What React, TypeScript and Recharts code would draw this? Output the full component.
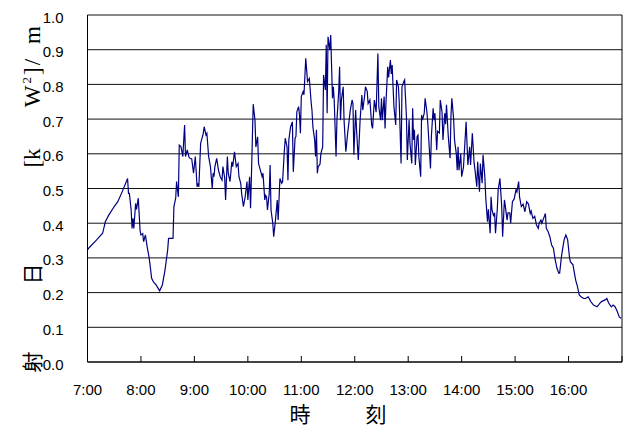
import React from "react";
import { LineChart, Line, XAxis, YAxis, CartesianGrid, ReferenceLine } from "recharts";

// time of day in minutes since midnight
const timeMinutes: number[] = [
  420, 422, 430, 437, 440, 444, 450, 454, 459, 465, 466, 467, 469, 470, 471, 472, 474, 475, 477, 479,
  480, 482, 483, 485, 487, 489, 490, 492, 494, 497, 501, 504, 507, 510, 511, 516, 517, 519, 520, 522,
  523, 525, 527, 529, 530, 532, 534, 535, 537, 539, 541, 543, 544, 545, 547, 550, 551, 553, 554, 556,
  558, 560, 561, 562, 563, 565, 567, 569, 571, 572, 574, 575, 577, 578, 580, 582, 583, 585, 587, 589,
  590, 592, 593, 595, 597, 599, 600, 602, 603, 604, 606, 608, 609, 611, 612, 614, 616, 617, 619, 620,
  621, 622, 624, 625, 626, 628, 629, 631, 633, 634, 636, 638, 639, 641, 642, 644, 645, 646, 648, 650,
  651, 653, 654, 655, 657, 658, 659, 660, 662, 663, 665, 667, 669, 671, 672, 673, 675, 676, 677, 678,
  679, 681, 682, 684, 685, 687, 688, 689, 690, 692, 693, 695, 696, 697, 699, 700, 702, 703, 704, 705,
  707, 708, 710, 712, 713, 715, 717, 718, 719, 721, 722, 724, 726, 728, 729, 731, 732, 734, 735, 737,
  739, 740, 742, 744, 746, 747, 749, 750, 751, 753, 754, 755, 757, 758, 760, 761, 762, 763, 764, 766,
  767, 769, 770, 772, 773, 775, 776, 778, 779, 781, 782, 784, 785, 786, 787, 788, 790, 791, 792, 794,
  795, 796, 798, 799, 801, 802, 805, 806, 808, 809, 810, 812, 813, 815, 816, 818, 819, 821, 822, 823,
  825, 827, 828, 829, 831, 832, 834, 835, 836, 837, 839, 840, 842, 845, 846, 847, 849, 850, 852, 854,
  855, 857, 858, 860, 861, 863, 864, 866, 867, 869, 870, 872, 873, 874, 876, 877, 878, 880, 881, 883,
  885, 886, 888, 889, 891, 892, 894, 895, 897, 899, 901, 902, 904, 905, 907, 909, 911, 913, 915, 917,
  918, 920, 922, 924, 926, 927, 929, 930, 932, 934, 935, 937, 939, 941, 943, 945, 947, 949, 950, 952,
  953, 955, 957, 959, 961, 962, 965, 966, 968, 970, 972, 974, 977, 979, 982, 985, 988, 992, 995, 997,
  1001, 1003, 1005, 1008, 1010, 1012, 1014, 1017, 1019,
];

// solar irradiance [kW/m2]
const irradiance: number[] = [
  0.323, 0.33, 0.351, 0.371, 0.404, 0.424, 0.448, 0.462, 0.491, 0.529, 0.486, 0.486, 0.438, 0.385, 0.414, 0.385, 0.457, 0.44, 0.472, 0.38,
  0.366, 0.37, 0.347, 0.366, 0.332, 0.303, 0.284, 0.241, 0.231, 0.222, 0.205, 0.222, 0.265, 0.323, 0.356, 0.356, 0.448, 0.472, 0.52, 0.476,
  0.625, 0.62, 0.592, 0.683, 0.592, 0.611, 0.59, 0.587, 0.585, 0.544, 0.592, 0.505, 0.515, 0.505, 0.63, 0.659, 0.678, 0.654, 0.659, 0.592,
  0.563, 0.5, 0.544, 0.534, 0.563, 0.587, 0.553, 0.534, 0.524, 0.563, 0.53, 0.467, 0.592, 0.544, 0.52, 0.577, 0.563, 0.606, 0.563, 0.572,
  0.534, 0.515, 0.486, 0.448, 0.476, 0.52, 0.467, 0.534, 0.443, 0.534, 0.743, 0.697, 0.62, 0.649, 0.572, 0.553, 0.534, 0.544, 0.467, 0.48,
  0.476, 0.438, 0.486, 0.568, 0.438, 0.4, 0.361, 0.409, 0.467, 0.409, 0.529, 0.515, 0.52, 0.611, 0.645, 0.62, 0.524, 0.64, 0.678, 0.692,
  0.548, 0.645, 0.65, 0.721, 0.736, 0.712, 0.659, 0.765, 0.779, 0.77, 0.875, 0.808, 0.817, 0.75, 0.725, 0.678, 0.64, 0.592, 0.669, 0.544,
  0.563, 0.57, 0.601, 0.62, 0.827, 0.784, 0.914, 0.717, 0.937, 0.899, 0.942, 0.76, 0.793, 0.75, 0.592, 0.697, 0.78, 0.851, 0.697, 0.755,
  0.793, 0.697, 0.606, 0.659, 0.68, 0.726, 0.755, 0.745, 0.597, 0.726, 0.669, 0.582, 0.697, 0.769, 0.726, 0.765, 0.793, 0.78, 0.745, 0.755,
  0.683, 0.673, 0.755, 0.72, 0.889, 0.736, 0.697, 0.76, 0.697, 0.765, 0.673, 0.745, 0.851, 0.82, 0.87, 0.83, 0.856, 0.793, 0.736, 0.683,
  0.813, 0.793, 0.745, 0.572, 0.793, 0.808, 0.813, 0.707, 0.582, 0.697, 0.63, 0.572, 0.731, 0.64, 0.669, 0.568, 0.65, 0.654, 0.59, 0.534,
  0.712, 0.697, 0.717, 0.76, 0.72, 0.688, 0.558, 0.65, 0.731, 0.697, 0.717, 0.611, 0.665, 0.66, 0.755, 0.72, 0.64, 0.717, 0.685, 0.741,
  0.65, 0.587, 0.708, 0.76, 0.7, 0.64, 0.6, 0.553, 0.62, 0.553, 0.6, 0.534, 0.56, 0.692, 0.63, 0.568, 0.62, 0.568, 0.659, 0.573,
  0.553, 0.505, 0.577, 0.491, 0.572, 0.515, 0.597, 0.535, 0.476, 0.404, 0.44, 0.371, 0.476, 0.44, 0.42, 0.43, 0.371, 0.44, 0.496, 0.529,
  0.446, 0.361, 0.467, 0.45, 0.409, 0.43, 0.43, 0.4, 0.462, 0.47, 0.496, 0.49, 0.52, 0.476, 0.448, 0.455, 0.433, 0.462, 0.455, 0.428,
  0.435, 0.414, 0.42, 0.395, 0.385, 0.4, 0.409, 0.4, 0.414, 0.428, 0.385, 0.376, 0.361, 0.337, 0.328, 0.294, 0.27, 0.256, 0.256, 0.303,
  0.32, 0.352, 0.366, 0.352, 0.303, 0.289, 0.28, 0.265, 0.236, 0.217, 0.193, 0.188, 0.183, 0.183, 0.188, 0.174, 0.164, 0.159, 0.169, 0.174,
  0.179, 0.183, 0.17, 0.159, 0.164, 0.16, 0.15, 0.13, 0.126,
];

const xTicks: number[] = [420, 480, 540, 600, 660, 720, 780, 840, 900, 960, 1020];
const xTickLabels: string[] = ["7:00", "8:00", "9:00", "10:00", "11:00", "12:00", "13:00", "14:00", "15:00", "16:00", ""];
const yTicks: number[] = [0, 0.1, 0.2, 0.3, 0.4, 0.5, 0.6, 0.7, 0.8, 0.9, 1.0];

const data = timeMinutes.map((t, i) => ({ t, v: irradiance[i] }));

const tickFont = "'Liberation Sans', Arial, sans-serif";

const XTick = (props: any) => {
  const { x, y, payload } = props;
  const idx = xTicks.indexOf(payload.value);
  const label = idx >= 0 ? xTickLabels[idx] : "";
  return (
    <g>
      <line x1={x} y1={y - 6} x2={x} y2={y} stroke="#000" strokeWidth={1} />
      {label ? (
        <text x={x} y={y + 27} textAnchor="middle" dominantBaseline="central" fontSize={15} fontFamily={tickFont} fill="#000">
          {label}
        </text>
      ) : null}
    </g>
  );
};

const YTick = (props: any) => {
  const { x, y, payload } = props;
  return (
    <text x={x} y={y + 2} textAnchor="end" dominantBaseline="central" fontSize={15} fontFamily={tickFont} fill="#000">
      {Number(payload.value).toFixed(1)}
    </text>
  );
};

const rot = (cx: number, cy: number, extra: React.CSSProperties = {}): React.CSSProperties => ({
  position: "absolute",
  left: cx,
  top: cy,
  transform: "translate(-50%, -50%) rotate(-90deg)",
  whiteSpace: "nowrap",
  lineHeight: 1,
  color: "#000",
  ...extra,
});

const serif = "'Liberation Serif', 'DejaVu Serif', serif";
const cjk = "'Noto Sans CJK JP', sans-serif";

const xTitleStyle = (cx: number): React.CSSProperties => ({
  position: "absolute",
  left: cx,
  top: 413,
  transform: "translate(-50%, -50%)",
  fontFamily: cjk,
  fontSize: 21,
  lineHeight: 1,
  color: "#000",
});

export default function App() {
  return (
    <div style={{ position: "absolute", left: 0, top: 0, width: 627, height: 430, background: "#fff", overflow: "hidden" }}>
      <LineChart width={627} height={430} data={data} margin={{ top: 15, right: 5, bottom: 38, left: 0 }}>
        <CartesianGrid vertical={false} stroke="#111" strokeWidth={1} />
        <XAxis
          dataKey="t"
          type="number"
          domain={[420, 1020]}
          ticks={xTicks}
          interval={0}
          allowDataOverflow
          height={30}
          tickSize={0}
          tickMargin={0}
          tickLine={false}
          axisLine={{ stroke: "#000", strokeWidth: 1 }}
          tick={<XTick />}
        />
        <YAxis
          type="number"
          domain={[0, 1]}
          ticks={yTicks}
          interval={0}
          width={87.5}
          tickSize={0}
          tickMargin={24}
          tickLine={false}
          axisLine={{ stroke: "#000", strokeWidth: 1 }}
          tick={<YTick />}
        />
        <ReferenceLine x={1020} stroke="#000" strokeWidth={1} />
        <Line
          type="linear"
          dataKey="v"
          stroke="#000080"
          strokeWidth={1.2}
          dot={false}
          isAnimationActive={false}
        />
      </LineChart>
      {/* y axis title pieces */}
      <span style={rot(32, 35, { fontFamily: serif, fontSize: 23 })}>m</span>
      <span style={rot(32, 82, { fontFamily: serif, fontSize: 23, letterSpacing: 2 })}>
        W<sup style={{ fontSize: 13 }}>2</sup>]/
      </span>
      <span style={rot(32, 158, { fontFamily: serif, fontSize: 23 })}>[k</span>
      <span style={rot(31, 274, { fontFamily: cjk, fontSize: 21 })}>日</span>
      <span style={rot(31, 362, { fontFamily: cjk, fontSize: 21 })}>射</span>
      {/* x axis title */}
      <span style={xTitleStyle(300)}>時</span>
      <span style={xTitleStyle(376)}>刻</span>
    </div>
  );
}
